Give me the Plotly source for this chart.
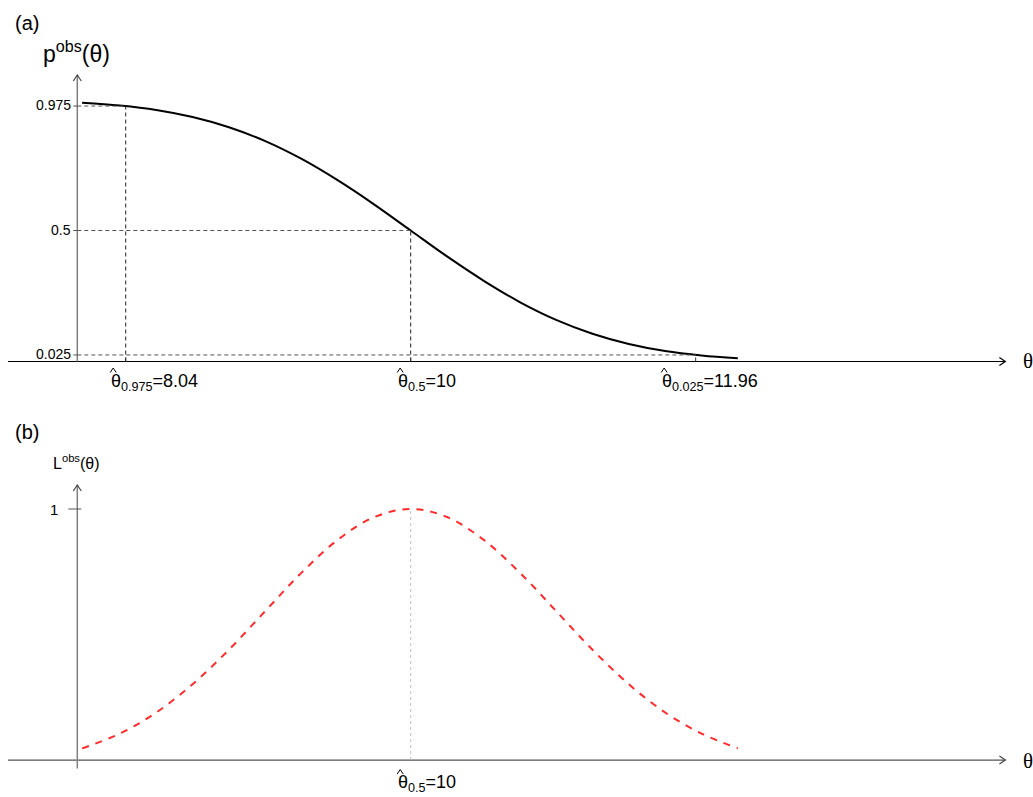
import plotly.graph_objects as go

# ---------------- data ----------------
theta = [7.74, 8.0, 8.25, 8.5, 8.75, 9.0, 9.25, 9.5, 9.75, 10.0,
         10.25, 10.5, 10.75, 11.0, 11.25, 11.5, 11.75, 12.0, 12.25]
p_obs = [0.988, 0.977, 0.960, 0.933, 0.894, 0.841, 0.773, 0.691, 0.599, 0.500,
         0.401, 0.309, 0.227, 0.159, 0.106, 0.067, 0.040, 0.023, 0.012]
L_obs = [0.078, 0.135, 0.216, 0.325, 0.458, 0.607, 0.755, 0.882, 0.969, 1.000,
         0.969, 0.882, 0.755, 0.607, 0.458, 0.325, 0.216, 0.135, 0.078]

quantile_levels = [0.975, 0.5, 0.025]
quantile_theta = [8.04, 10.0, 11.96]
quantile_sub = ["0.975", "0.5", "0.025"]
quantile_text = ["8.04", "10", "11.96"]
y_tick_labels = ["0.975", "0.5", "0.025"]
L_peak_theta = 10.0
L_peak = 1.0
L_tick_label = "1"

theta_axis_min, theta_axis_max = 7.23, 14.09
theta_yaxis = 7.707
p_axis_top = 1.0935
L_xaxis_level = 0.033
L_axis_bottom, L_axis_top = 0.0, 1.0925

# ---------------- figure ----------------
W, H = 1033, 797
X_RANGE = [7.1754, 14.2799]
Y1_RANGE = [-1.6622, 1.3798]
Y2_RANGE = [-0.1094, 2.9607]

def px(x):
    return x / W

def py(y):
    return 1 - y / H

SANS = "Liberation Sans, Arial, sans-serif"
SERIF = "Liberation Serif, Times New Roman, serif"

fig = go.Figure()

fig.add_trace(go.Scatter(x=theta, y=p_obs, mode="lines", yaxis="y",
                         line=dict(color="black", width=2, shape="spline"),
                         hoverinfo="skip", showlegend=False))
fig.add_trace(go.Scatter(x=theta, y=L_obs, mode="lines", yaxis="y2",
                         line=dict(color="#ff2a2a", width=2, shape="spline", dash="7px,7px"),
                         hoverinfo="skip", showlegend=False))

shapes = []
AX_GRAY = "#7f7f7f"

def hat(xanchor, yref, yanchor, off, dy):
    # small caret drawn above the theta glyph of a label
    shapes.append(dict(type="path", xref="x", yref=yref, xsizemode="pixel", ysizemode="pixel",
                       xanchor=xanchor, yanchor=yanchor,
                       path=f"M {off + 1.5},{dy - 4.5} L {off + 4.5},{dy} L {off + 7.5},{dy - 4.5}",
                       line=dict(color="black", width=1)))

# ---- top panel axes ----
shapes.append(dict(type="line", xref="x", yref="y", x0=theta_axis_min, x1=theta_axis_max,
                   y0=0, y1=0, line=dict(color="black", width=1.2)))
shapes.append(dict(type="line", xref="x", yref="y", x0=theta_yaxis, x1=theta_yaxis,
                   y0=0, y1=p_axis_top, line=dict(color=AX_GRAY, width=1.5)))
shapes.append(dict(type="path", xref="x", yref="y", xsizemode="pixel", ysizemode="pixel",
                   xanchor=theta_axis_max, yanchor=0, path="M -6,4 L 0,0 L -6,-4",
                   line=dict(color="black", width=1.2)))
shapes.append(dict(type="path", xref="x", yref="y", xsizemode="pixel", ysizemode="pixel",
                   xanchor=theta_yaxis, yanchor=p_axis_top, path="M -4,-6 L 0,0 L 4,-6",
                   line=dict(color="#444444", width=1.2)))

for lev, th in zip(quantile_levels, quantile_theta):
    shapes.append(dict(type="line", xref="x", yref="y", x0=theta_yaxis, x1=th,
                       y0=lev, y1=lev, line=dict(color="#555555", width=1, dash="4px,3px")))
    if lev > 0.1:
        shapes.append(dict(type="line", xref="x", yref="y", x0=th, x1=th,
                           y0=0, y1=lev, line=dict(color="#222222", width=1, dash="4px,3px")))
    shapes.append(dict(type="line", xref="x", yref="y", xsizemode="pixel", xanchor=theta_yaxis,
                       x0=-4, x1=0, y0=lev, y1=lev, line=dict(color="#555555", width=1)))
    shapes.append(dict(type="line", xref="x", yref="y", ysizemode="pixel", yanchor=0,
                       x0=th, x1=th, y0=0, y1=4, line=dict(color="#333333", width=1)))

# ---- bottom panel axes ----
shapes.append(dict(type="line", xref="x", yref="y2", x0=theta_axis_min, x1=theta_axis_max,
                   y0=L_xaxis_level, y1=L_xaxis_level, line=dict(color="#555555", width=1.2)))
shapes.append(dict(type="line", xref="x", yref="y2", x0=theta_yaxis, x1=theta_yaxis,
                   y0=L_axis_bottom, y1=L_axis_top, line=dict(color=AX_GRAY, width=1.5)))
shapes.append(dict(type="path", xref="x", yref="y2", xsizemode="pixel", ysizemode="pixel",
                   xanchor=theta_axis_max, yanchor=L_xaxis_level, path="M -6,4 L 0,0 L -6,-4",
                   line=dict(color="#444444", width=1.2)))
shapes.append(dict(type="path", xref="x", yref="y2", xsizemode="pixel", ysizemode="pixel",
                   xanchor=theta_yaxis, yanchor=L_axis_top, path="M -4,-6 L 0,0 L 4,-6",
                   line=dict(color="#444444", width=1.2)))
shapes.append(dict(type="line", xref="x", yref="y2", xsizemode="pixel", xanchor=theta_yaxis,
                   x0=-9, x1=4, y0=L_peak, y1=L_peak, line=dict(color="#555555", width=1)))
shapes.append(dict(type="line", xref="x", yref="y2", x0=L_peak_theta, x1=L_peak_theta,
                   y0=L_xaxis_level, y1=L_peak, line=dict(color="#c0c0c0", width=1, dash="3px,3px")))

annotations = []

def ann(x, y, text, size, family=SANS, xanchor="center", yanchor="middle", xref="paper",
        yref="paper", xshift=0, yshift=0, color="black"):
    annotations.append(dict(x=x, y=y, xref=xref, yref=yref, text=text, showarrow=False,
                            xanchor=xanchor, yanchor=yanchor, xshift=xshift, yshift=yshift,
                            font=dict(size=size, family=family, color=color)))

ann(px(13), py(23), "(a)", 20, xanchor="left")
ann(px(13), py(432), "(b)", 20, xanchor="left")

ann(px(76), py(52), "p<sup>obs</sup>(θ)", 23)
ann(px(76), py(462), "L<sup>obs</sup>(θ)", 16)

ann(px(1028), py(361), "θ", 21, family=SERIF)
ann(px(1028), py(761), "θ", 21, family=SERIF)

for lev, lab in zip(quantile_levels, y_tick_labels):
    ann(theta_yaxis, lev, lab, 14, xref="x", yref="y", xanchor="right", xshift=-4, yshift=1)

ann(theta_yaxis, L_peak, L_tick_label, 15, xref="x", yref="y2", xanchor="right", xshift=-17)

left_offsets = [-17, -15, -36]
for th, sub, txt, off in zip(quantile_theta, quantile_sub, quantile_text, left_offsets):
    ann(th, 0, "θ<sub>" + sub + "</sub>=" + txt, 18, xref="x", yref="y",
        xanchor="left", yanchor="middle", xshift=off, yshift=-21)
    hat(th, "y", 0, off, -6.5)

ann(L_peak_theta, L_xaxis_level, "θ<sub>0.5</sub>=10", 18, xref="x", yref="y2",
    xanchor="left", yanchor="middle", xshift=-15, yshift=-23)
hat(L_peak_theta, "y2", L_xaxis_level, -15, -9.5)

fig.update_layout(
    width=W, height=H, autosize=False,
    margin=dict(l=0, r=0, t=0, b=0),
    paper_bgcolor="white", plot_bgcolor="white",
    xaxis=dict(range=X_RANGE, visible=False, fixedrange=True),
    yaxis=dict(range=Y1_RANGE, visible=False, fixedrange=True),
    yaxis2=dict(range=Y2_RANGE, visible=False, overlaying="y", fixedrange=True),
    shapes=shapes, annotations=annotations,
    showlegend=False,
)

fig.write_html("out.html", config={"displayModeBar": False})
